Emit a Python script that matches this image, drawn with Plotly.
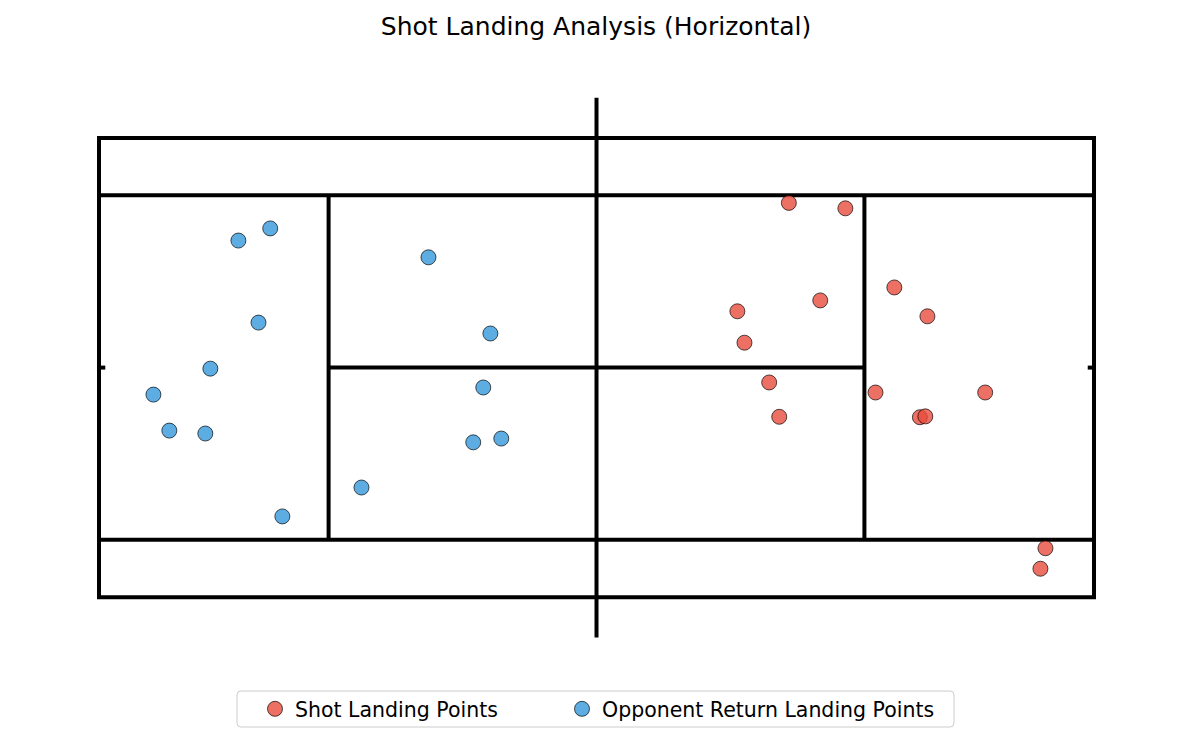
import plotly.graph_objects as go

# Court dimensions (metres)
COURT_LEN = 23.77
COURT_WID = 10.97
SINGLES_IN = 1.37
SERVICE_FROM_NET = 6.40
NET_OVERHANG = 0.914
CENTER_MARK = 0.15

# Shot landing points (metres)
shot_x = [16.48, 17.83, 19.00, 17.23, 15.25, 19.79, 15.42, 16.01, 18.55, 21.17, 16.25, 19.61, 19.74, 22.61, 22.49]
shot_y = [9.42, 9.29, 7.40, 7.09, 6.83, 6.71, 6.08, 5.13, 4.89, 4.89, 4.31, 4.30, 4.32, 1.17, 0.68]

# Opponent return landing points (metres)
ret_x = [4.09, 3.33, 7.87, 3.81, 9.35, 2.66, 1.30, 9.18, 1.68, 2.54, 8.94, 9.61, 6.27, 4.38]
ret_y = [8.81, 8.52, 8.12, 6.56, 6.30, 5.46, 4.84, 5.01, 3.98, 3.91, 3.70, 3.79, 2.62, 1.93]

W, H = 1192, 743
S = 41.86  # px per metre
L, R, T, B = 36, 36, 75, 84
PW, PH = W - L - R, H - T - B
x0 = -(99 - L) / S
x1 = x0 + PW / S
y1 = COURT_WID + (138 - T) / S
y0 = y1 - PH / S


def px_x(px):
    return (px - L) / PW


def px_y(py):
    return (H - B - py) / PH


fig = go.Figure()
fig.add_trace(go.Scatter(
    x=shot_x, y=shot_y, mode="markers", name="Shot Landing Points", legend="legend",
    marker=dict(size=15, color="rgba(231,76,60,0.8)", line=dict(color="rgba(0,0,0,0.85)", width=0.8)),
))
fig.add_trace(go.Scatter(
    x=ret_x, y=ret_y, mode="markers", name="Opponent Return Landing Points", legend="legend2",
    marker=dict(size=15, color="rgba(52,152,219,0.8)", line=dict(color="rgba(0,0,0,0.85)", width=0.8)),
))

lw = 4
line = dict(color="black", width=lw)
shapes = []
# outer doubles rectangle
shapes.append(dict(type="rect", x0=0, y0=0, x1=COURT_LEN, y1=COURT_WID, line=line, layer="below"))
# singles sidelines
for yy in [SINGLES_IN, COURT_WID - SINGLES_IN]:
    shapes.append(dict(type="line", x0=0, x1=COURT_LEN, y0=yy, y1=yy, line=line, layer="below"))
# service lines
mid = COURT_LEN / 2
for xx in [mid - SERVICE_FROM_NET, mid + SERVICE_FROM_NET]:
    shapes.append(dict(type="line", x0=xx, x1=xx, y0=SINGLES_IN - 0.03, y1=COURT_WID - SINGLES_IN + 0.03, line=line, layer="below"))
# center service line
shapes.append(dict(type="line", x0=mid - SERVICE_FROM_NET, x1=mid + SERVICE_FROM_NET,
                   y0=COURT_WID / 2, y1=COURT_WID / 2, line=line, layer="below"))
# net
shapes.append(dict(type="line", x0=mid, x1=mid, y0=-NET_OVERHANG - 0.05, y1=COURT_WID + NET_OVERHANG + 0.05, line=line, layer="below"))
# center marks
shapes.append(dict(type="line", x0=0, x1=CENTER_MARK, y0=COURT_WID / 2, y1=COURT_WID / 2, line=line, layer="below"))
shapes.append(dict(type="line", x0=COURT_LEN - CENTER_MARK, x1=COURT_LEN, y0=COURT_WID / 2, y1=COURT_WID / 2, line=line, layer="below"))

# legend frame (rounded rectangle, paper coords)
bx0, bx1, by0, by1 = px_x(237), px_x(954), px_y(727), px_y(691)
rx, ry = 4 / PW, 4 / PH
path = (f"M {bx0+rx},{by0} L {bx1-rx},{by0} Q {bx1},{by0} {bx1},{by0+ry} "
        f"L {bx1},{by1-ry} Q {bx1},{by1} {bx1-rx},{by1} "
        f"L {bx0+rx},{by1} Q {bx0},{by1} {bx0},{by1-ry} "
        f"L {bx0},{by0+ry} Q {bx0},{by0} {bx0+rx},{by0} Z")
shapes.append(dict(type="path", path=path, xref="paper", yref="paper",
                   line=dict(color="#cccccc", width=1), fillcolor="white", layer="below"))

leg_common = dict(orientation="h", yanchor="middle", y=px_y(709), xanchor="left",
                  borderwidth=0, bgcolor="rgba(0,0,0,0)",
                  font=dict(size=20.5, family="DejaVu Sans", color="black"))

fig.update_layout(
    width=W, height=H,
    margin=dict(l=L, r=R, t=T, b=B, pad=0, autoexpand=False),
    paper_bgcolor="white", plot_bgcolor="white",
    font=dict(family="DejaVu Sans", color="black"),
    title=dict(text="Shot Landing Analysis (Horizontal)", x=0.5, xanchor="center",
               y=1 - 26 / H, yanchor="middle", yref="container", font=dict(size=25, family="DejaVu Sans")),
    xaxis=dict(range=[x0, x1], visible=False, showgrid=False, zeroline=False),
    yaxis=dict(range=[y0, y1], visible=False, showgrid=False, zeroline=False),
    shapes=shapes,
    showlegend=True,
    legend=dict(x=px_x(255), **leg_common),
    legend2=dict(x=px_x(562), **leg_common),
)

fig.write_html("out.html")
